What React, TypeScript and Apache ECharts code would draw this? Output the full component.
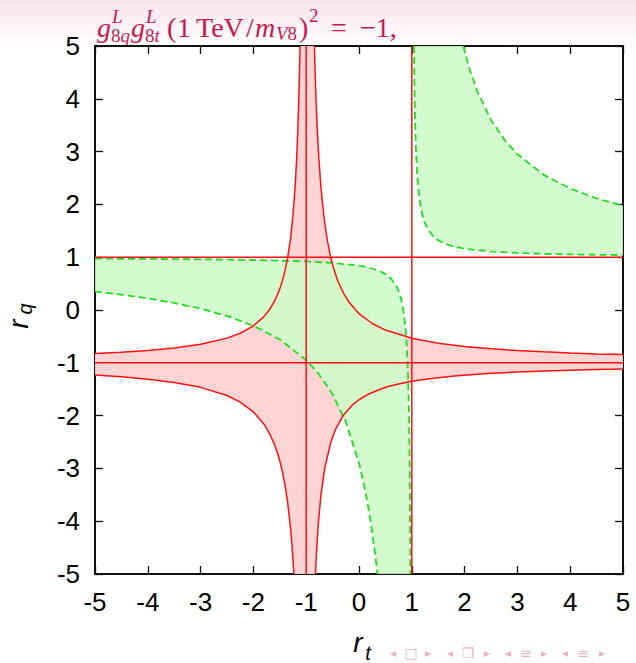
import React, { useEffect, useRef } from "react";
import * as echarts from "echarts";

// ---------- axis settings ----------
const AXIS_MIN = -5;
const AXIS_MAX = 5;
const AXIS_STEP = 1;
const guideLevels = [-1, 1];

// ---------- red solid curves: (r_q+1)(r_t+1) = -0.70 ----------
const redNegUpperLeft: [number, number][] = [
  [-5, -0.825], [-4.5, -0.8], [-4, -0.767], [-3.5, -0.72], [-3, -0.65], [-2.5, -0.533],
  [-2.25, -0.44], [-2, -0.3], [-1.8, -0.125], [-1.7, 0], [-1.6, 0.167], [-1.5, 0.4],
  [-1.45, 0.556], [-1.4, 0.75], [-1.35, 1.0], [-1.3, 1.333], [-1.25, 1.8], [-1.22, 2.18],
  [-1.2, 2.5], [-1.18, 2.89], [-1.16, 3.375], [-1.14, 4.0], [-1.127, 4.5], [-1.117, 5.0],
];
const redNegLowerRight: [number, number][] = [
  [5.0, -1.117], [4.5, -1.127], [4.0, -1.14], [3.375, -1.16], [2.89, -1.18], [2.5, -1.2],
  [2.18, -1.22], [1.8, -1.25], [1.333, -1.3], [1.0, -1.35], [0.75, -1.4], [0.556, -1.45],
  [0.4, -1.5], [0.167, -1.6], [0, -1.7], [-0.125, -1.8], [-0.3, -2], [-0.44, -2.25],
  [-0.533, -2.5], [-0.65, -3], [-0.72, -3.5], [-0.767, -4], [-0.8, -4.5], [-0.825, -5],
];
// ---------- red solid curves: (r_q+1)(r_t+1) = +0.93 ----------
const redPosUpperRight: [number, number][] = [
  [-0.845, 5.0], [-0.835, 4.636], [-0.82, 4.167], [-0.8, 3.65], [-0.78, 3.227], [-0.76, 2.875],
  [-0.73, 2.444], [-0.7, 2.1], [-0.65, 1.657], [-0.6, 1.325], [-0.55, 1.067], [-0.5, 0.86],
  [-0.45, 0.691], [-0.4, 0.55], [-0.3, 0.329], [-0.2, 0.1625], [0, -0.07], [0.25, -0.256],
  [0.5, -0.38], [1, -0.535], [1.5, -0.628], [2, -0.69], [2.5, -0.734], [3, -0.7675],
  [3.5, -0.793], [4, -0.814], [4.5, -0.831], [5, -0.845],
];
const redPosLowerLeft: [number, number][] = [
  [-1.2325, -5.0], [-1.27, -4.444], [-1.3, -4.1], [-1.35, -3.657], [-1.4, -3.325], [-1.45, -3.067],
  [-1.5, -2.86], [-1.55, -2.691], [-1.6, -2.55], [-1.7, -2.329], [-1.8, -2.1625], [-2, -1.93],
  [-2.25, -1.744], [-2.5, -1.62], [-3, -1.465], [-3.5, -1.372], [-4, -1.31], [-4.5, -1.266],
  [-5, -1.2325],
];

// ---------- green dashed curves: (r_q-1)(r_t-1) = 0.16 ----------
const greenInnerUpperRight: [number, number][] = [
  [1.04, 5], [1.05, 4.2], [1.06, 3.667], [1.07, 3.286], [1.08, 3.0], [1.1, 2.6], [1.12, 2.333],
  [1.15, 2.067], [1.2, 1.8], [1.25, 1.64], [1.3, 1.533], [1.4, 1.4], [1.5, 1.32], [1.6, 1.267],
  [1.8, 1.2], [2.0, 1.16], [2.5, 1.107], [3.0, 1.08], [3.5, 1.064], [4.0, 1.053], [4.5, 1.046],
  [5.0, 1.04],
];
const greenInnerLowerLeft: [number, number][] = [
  [-5, 0.973], [-4, 0.968], [-3, 0.96], [-2, 0.947], [-1, 0.92], [-0.5, 0.893], [0, 0.84],
  [0.2, 0.8], [0.4, 0.733], [0.5, 0.68], [0.6, 0.6], [0.7, 0.467], [0.75, 0.36], [0.8, 0.2],
  [0.85, -0.067], [0.88, -0.333], [0.9, -0.6], [0.92, -1.0], [0.93, -1.286], [0.94, -1.667],
  [0.95, -2.2], [0.96, -3.0], [0.967, -3.85], [0.9733, -5],
];
// ---------- green dashed curves: (r_q-1)(r_t-1) = 3.9 ----------
const greenOuterUpperRight: [number, number][] = [
  [1.975, 5], [2.1, 4.545], [2.25, 4.12], [2.5, 3.6], [2.75, 3.229], [3, 2.95], [3.5, 2.56],
  [4, 2.3], [4.5, 2.114], [5, 1.975],
];
const greenOuterLowerLeft: [number, number][] = [
  [-5, 0.35], [-4.5, 0.291], [-4, 0.22], [-3.5, 0.133], [-3, 0.025], [-2.5, -0.114], [-2, -0.3],
  [-1.5, -0.56], [-1, -0.95], [-0.75, -1.229], [-0.5, -1.6], [-0.25, -2.12], [0, -2.9],
  [0.1, -3.333], [0.2, -3.875], [0.3, -4.571], [0.35, -5.0],
];

// ---------- text content ----------
const navGlyphs = [
  "\u25C2", "\u25A1", "\u25B8",
  "\u25C2", "\u2750", "\u25B8",
  "\u25C2", "\u2261", "\u25B8",
  "\u25C2", "\u2261", "\u25B8",
];
const navX = [393, 411, 428, 450, 468, 487, 508, 526, 544, 565, 583, 602];

// ---------- styling ----------
const RED = "#ff1010";
const GREEN = "#22dd22";
const RED_FILL = "rgba(255, 210, 210, 0.95)";
const GREEN_FILL = "rgba(205, 250, 200, 0.88)";
const TITLE_COLOR = "#c8174f";
const NAV_COLOR = "#e8b6c7";

const redRegion = [
  ...redNegUpperLeft,
  ...redPosUpperRight,
  ...redNegLowerRight,
  ...redPosLowerLeft,
];
const greenRegions = [
  [...greenInnerUpperRight, ...[...greenOuterUpperRight].reverse()],
  [...greenInnerLowerLeft, ...[...greenOuterLowerLeft].reverse()],
];

function regionSeries(regions: [number, number][][], fill: string, z: number) {
  return {
    type: "custom",
    coordinateSystem: "cartesian2d",
    clip: true,
    silent: true,
    z,
    data: regions.map((_, i) => [0, 0, i]),
    encode: { x: 0, y: 1 },
    renderItem: (params: any, api: any) => {
      const pts = regions[params.dataIndex].map((p) => api.coord(p));
      return {
        type: "polygon",
        shape: { points: pts },
        style: { fill, stroke: null },
      };
    },
  };
}

function curveSeries(data: [number, number][], color: string, dashed: boolean) {
  return {
    type: "line",
    data,
    showSymbol: false,
    symbol: "none",
    silent: true,
    clip: true,
    z: dashed ? 3 : 4,
    lineStyle: {
      color,
      width: dashed ? 1.8 : 1.5,
      type: dashed ? [7, 4] : "solid",
    },
  };
}

const baseAxis = {
  type: "value",
  min: AXIS_MIN,
  max: AXIS_MAX,
  interval: AXIS_STEP,
  axisLine: { show: true, onZero: false, lineStyle: { color: "#111", width: 2 } },
  axisTick: { show: true, inside: true, length: 8, lineStyle: { color: "#111", width: 1.3 } },
  splitLine: { show: false },
};
const tickLabel = {
  fontSize: 26,
  color: "#000",
  fontFamily: "Liberation Sans, Arial, sans-serif",
};

const SERIF = "Liberation Serif, serif";
function titleText(text: string, x: number, y: number, size: number, italic: boolean, rich?: any) {
  return {
    type: "text",
    x,
    y,
    silent: true,
    style: {
      text,
      fontSize: size,
      fontFamily: SERIF,
      fontStyle: italic ? "italic" : "normal",
      fill: TITLE_COLOR,
      align: "left",
      verticalAlign: "middle",
      rich,
    },
  };
}
const scriptRich = {
  n: { fontStyle: "normal", fontSize: 19, fontFamily: SERIF, fill: TITLE_COLOR },
  i: { fontStyle: "italic", fontSize: 19, fontFamily: SERIF, fill: TITLE_COLOR },
};

const MAIN = 28;
const SCRIPT = 19;
const MID_Y = 27;
const SUP_Y = 16;
const SUB_Y = 35;

export default function App() {
  const ref = useRef<HTMLDivElement>(null);
  useEffect(() => {
    if (!ref.current) return;
    const chart = echarts.init(ref.current, null, { renderer: "svg" });
    const series: any[] = [
      regionSeries([redRegion as [number, number][]], RED_FILL, 1),
      regionSeries(greenRegions as [number, number][][], GREEN_FILL, 2),
      curveSeries(greenInnerUpperRight, GREEN, true),
      curveSeries(greenInnerLowerLeft, GREEN, true),
      curveSeries(greenOuterUpperRight, GREEN, true),
      curveSeries(greenOuterLowerLeft, GREEN, true),
      curveSeries(redNegUpperLeft, RED, false),
      curveSeries(redNegLowerRight, RED, false),
      curveSeries(redPosUpperRight, RED, false),
      curveSeries(redPosLowerLeft, RED, false),
      ...guideLevels.map((v) => curveSeries([[AXIS_MIN, v], [AXIS_MAX, v]], RED, false)),
      ...guideLevels.map((v) => curveSeries([[v, AXIS_MIN], [v, AXIS_MAX]], RED, false)),
    ];
    const sansItalic = (text: string, x: number, y: number, size: number) => ({
      type: "text", x, y, silent: true,
      style: { text, fontSize: size, fontStyle: "italic", fontFamily: "Liberation Sans, sans-serif", fill: "#000", align: "center", verticalAlign: "middle" },
    });
    chart.setOption({
      animation: false,
      grid: { left: 95, top: 46, width: 528, height: 528, containLabel: false },
      xAxis: [
        { ...baseAxis, position: "bottom", axisLabel: { ...tickLabel, margin: 15 } },
        { ...baseAxis, position: "top", axisLabel: { show: false } },
      ],
      yAxis: [
        { ...baseAxis, position: "left", axisLabel: { ...tickLabel, margin: 15 } },
        { ...baseAxis, position: "right", axisLabel: { show: false } },
      ],
      series,
      graphic: [
        // title
        titleText("g", 97, MID_Y, MAIN, true),
        titleText("L", 112, SUP_Y, SCRIPT, true),
        titleText("{n|8}{i|q}", 111, SUB_Y, SCRIPT, false, scriptRich),
        titleText("g", 131, MID_Y, MAIN, true),
        titleText("L", 146, SUP_Y, SCRIPT, true),
        titleText("{n|8}{i|t}", 145, SUB_Y, SCRIPT, false, scriptRich),
        titleText("(", 167, MID_Y, MAIN, false),
        titleText("1", 177, MID_Y, MAIN, false),
        titleText("TeV", 196, MID_Y, MAIN, false),
        titleText("/", 246, MID_Y, MAIN, false),
        titleText("m", 255, MID_Y, MAIN, true),
        titleText("{i|V}{n|8}", 276, SUB_Y - 2, SCRIPT, false, scriptRich),
        titleText(")", 299, MID_Y, MAIN, false),
        titleText("2", 309, SUP_Y - 1, SCRIPT, false),
        titleText("=", 331, MID_Y, MAIN, false),
        titleText("\u22121,", 360, MID_Y, MAIN, false),
        // x axis title
        sansItalic("r", 358, 642, 28),
        sansItalic("t", 368, 653, 20),
        // y axis title (rotated)
        {
          type: "group", x: 18, y: 318, rotation: Math.PI / 2, silent: true,
          children: [sansItalic("r", -6, 0, 28), sansItalic("q", 9, 7, 20)],
        },
        // beamer navigation symbols
        ...navGlyphs.map((g, i) => ({
          type: "text", x: navX[i], y: 653, silent: true,
          style: {
            text: g,
            fontSize: i % 3 === 1 ? 14 : 12,
            fontFamily: "DejaVu Sans, sans-serif", fill: NAV_COLOR, align: "center", verticalAlign: "middle",
          },
        })),
      ],
    });
    return () => chart.dispose();
  }, []);
  return (
    <div
      style={{
        position: "fixed",
        left: 0,
        top: 0,
        width: 636,
        height: 663,
        background: "linear-gradient(to bottom, #f7e3ea 0px, #fdf5f8 30px, #ffffff 48px, #ffffff 100%)",
      }}
    >
      <div ref={ref} style={{ width: 636, height: 663 }} />
    </div>
  );
}
